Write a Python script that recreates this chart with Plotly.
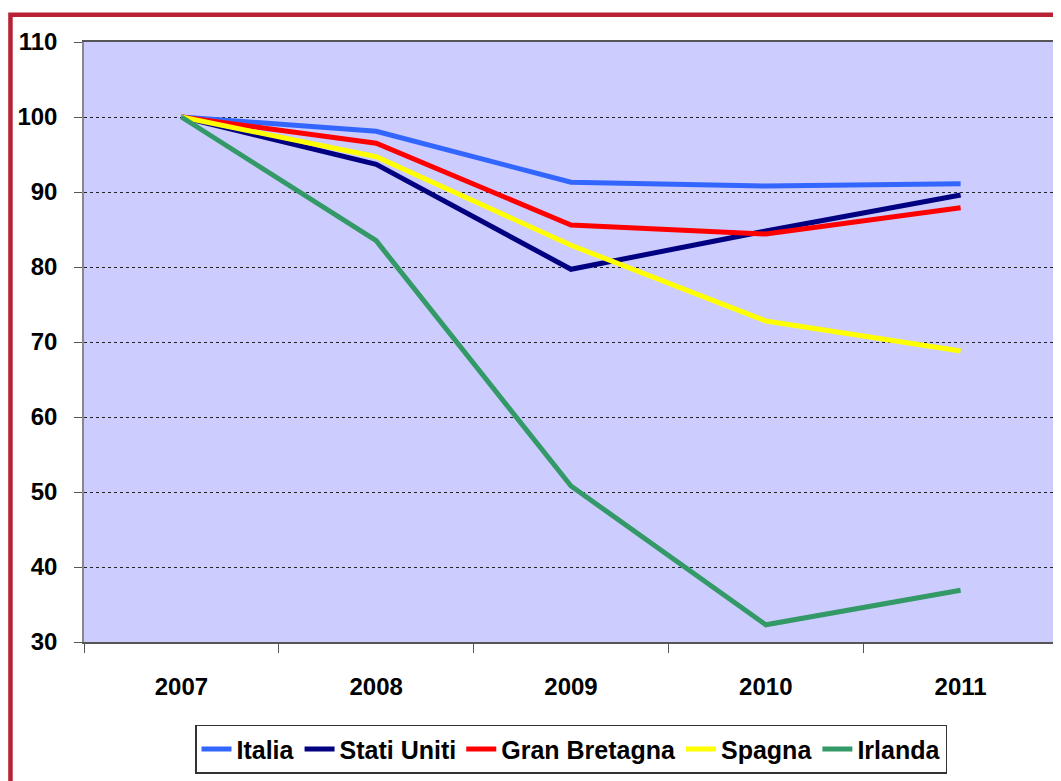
import plotly.graph_objects as go

years = ["2007", "2008", "2009", "2010", "2011"]
italia = [100, 98.1, 91.3, 90.8, 91.1]
stati_uniti = [100, 93.7, 79.7, 84.8, 89.6]
gran_bretagna = [100, 96.5, 85.6, 84.4, 87.9]
spagna = [100, 94.7, 82.9, 72.8, 68.8]
irlanda = [100, 83.5, 50.8, 32.3, 36.9]

series = [
    ("Italia", italia, "#3366FF"),
    ("Stati Uniti", stati_uniti, "#000080"),
    ("Gran Bretagna", gran_bretagna, "#FF0000"),
    ("Spagna", spagna, "#FFFF00"),
    ("Irlanda", irlanda, "#339966"),
]

FONT = "Liberation Sans, Arial, sans-serif"

fig = go.Figure()
for name, vals, col in series:
    fig.add_trace(go.Scatter(x=years, y=vals, name=name, mode="lines",
                             line=dict(color=col, width=5)))

fig.update_layout(
    width=1061, height=781,
    margin=dict(l=76, r=11, t=34, b=147, autoexpand=False),
    paper_bgcolor="white",
    plot_bgcolor="#CCCCFF",
    font=dict(family=FONT, size=24, color="black", weight="bold"),
    showlegend=True,
    legend=dict(orientation="h", x=0.5, xanchor="center", y=-0.138, yanchor="top",
                bordercolor="#333333", borderwidth=1.5, bgcolor="white",
                font=dict(family=FONT, size=25, color="black", weight="bold"),
                itemwidth=30, tracegroupgap=0),
    xaxis=dict(type="category", range=[-0.5, 4.5], tickson="boundaries",
               ticks="outside", ticklen=9, tickcolor="#555555",
               showline=True, linecolor="#555555", linewidth=1.5, mirror=True,
               showgrid=False, ticklabelstandoff=22, automargin=False,
               tickfont=dict(family=FONT, size=24, weight="bold")),
    yaxis=dict(range=[30, 110], tickvals=[30, 40, 50, 60, 70, 80, 90, 100, 110],
               ticks="outside", ticklen=8, tickcolor="#555555",
               showline=True, linecolor="#888888", linewidth=1.5, mirror=True,
               showgrid=True, gridcolor="#222222", gridwidth=1, griddash="3px,3px",
               zeroline=False, ticklabelstandoff=12, automargin=False,
               tickfont=dict(family=FONT, size=24, weight="bold")),
    shapes=[dict(type="rect", xref="paper", yref="paper",
                 x0=-0.0755, x1=1.2, y0=-0.4, y1=1.0453,
                 line=dict(color="#B82234", width=4.5), layer="above")],
)

fig.write_html("out.html")
